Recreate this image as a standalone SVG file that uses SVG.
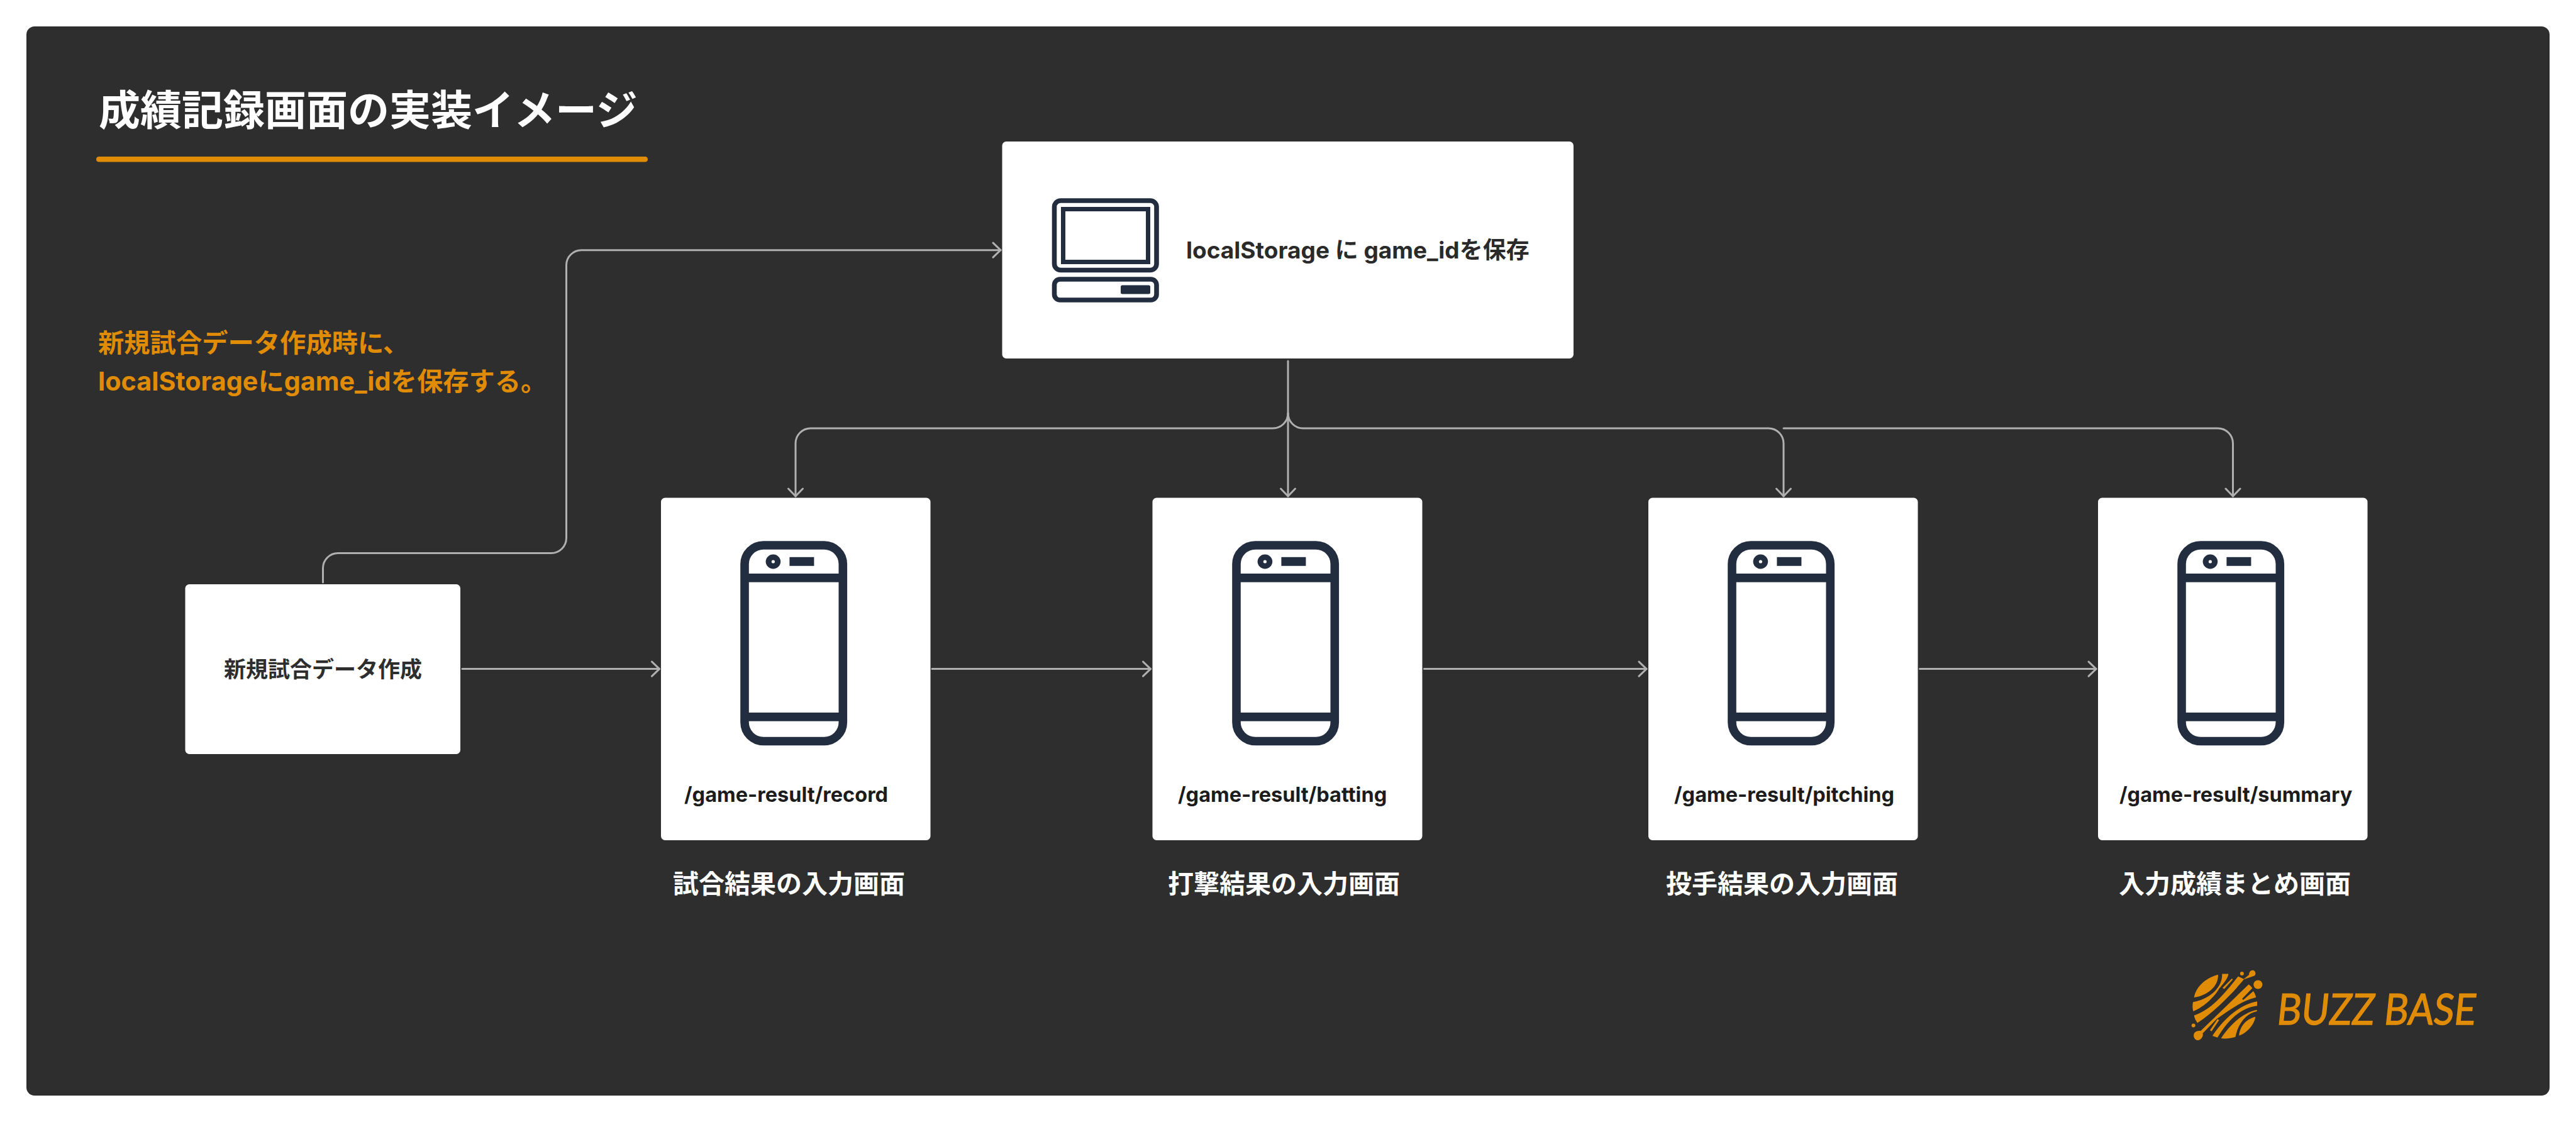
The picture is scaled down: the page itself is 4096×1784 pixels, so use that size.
<svg xmlns="http://www.w3.org/2000/svg" width="4096" height="1784" viewBox="0 0 4096 1784">
<style>
text{font-family:"Inter","Noto Sans CJK JP","Noto Sans",sans-serif;font-weight:700}
.card{fill:#fff}
.ink{fill:none;stroke:#222e3f}
.solid{fill:#222e3f}
.conn{fill:none;stroke:#b0b0b0;stroke-width:3;stroke-linecap:round;marker-end:url(#arrow)}
.path{font-size:32.5px;fill:#1c1c1c}
.cap{font-size:41px;fill:#fff}
.note{font-size:41.3px;fill:#e08c07}
.logo{fill:#e08c07}
</style>
<defs>
<marker id="arrow" markerUnits="userSpaceOnUse" markerWidth="30" markerHeight="30" refX="15" refY="15" orient="auto" overflow="visible">
<path d="M3 3.5L15 15L3 26.5" fill="none" stroke="#b0b0b0" stroke-width="3" stroke-linecap="round" stroke-linejoin="round"/>
</marker>
<g id="phone">
<rect x="133" y="75.5" width="156.3" height="311.5" rx="30" ry="30" class="ink" stroke-width="13.6"/>
<rect x="133" y="120.5" width="156.3" height="13.7" class="solid"/>
<rect x="133" y="341.5" width="156.3" height="13.7" class="solid"/>
<ellipse cx="178.4" cy="101.5" rx="11.8" ry="11.4" class="solid"/>
<circle cx="178.4" cy="101.5" r="2.6" fill="#fff"/>
<rect x="204.4" y="94.3" width="39" height="14" class="solid"/>
</g>
</defs>
<rect width="4096" height="1784" fill="#fff"/>
<rect id="panel" x="42" y="42" width="4012" height="1700" rx="13" fill="#2e2e2e"/>
<g id="title">
<text x="157" y="198.5" font-size="66" fill="#fff">成績記録画面の実装イメージ</text>
<rect x="153" y="249" width="877" height="8.4" rx="4.2" fill="#e08c07"/>
</g>
<g id="note">
<text class="note" x="156" y="560">新規試合データ作成時に、</text>
<text class="note" x="156" y="621">localStorageにgame_idを保存する。</text>
</g>
<g id="connectors">
<path class="conn" d="M513.5 926V903.5A24 24 0 0 1 537.5 879.5H876.5A24 24 0 0 0 900.5 855.5V421.7A24 24 0 0 1 924.5 397.7H1591"/>
<path class="conn" d="M2048 574V789"/>
<path class="conn" d="M2048 657A24 24 0 0 1 2024 681H1289A24 24 0 0 0 1265 705V789"/>
<path class="conn" d="M2048 657A24 24 0 0 0 2072 681H2812A24 24 0 0 1 2836 705V789"/>
<path class="conn" d="M2836 681H3526.5A24 24 0 0 1 3550.5 705V789"/>
<path class="conn" d="M735 1063.6H1048.5"/>
<path class="conn" d="M1482 1063.6H1829.5"/>
<path class="conn" d="M2264.5 1063.6H2618"/>
<path class="conn" d="M3052.5 1063.6H3333"/>
</g>
<g id="node-storage">
<rect class="card" x="1593.5" y="225" width="908.5" height="345" rx="6.5"/>
<rect x="1676.5" y="319" width="162.5" height="110.5" rx="10" class="ink" stroke-width="7.6"/>
<rect x="1690.5" y="332.5" width="135" height="84" class="ink" stroke-width="7"/>
<rect x="1676.5" y="444" width="162.5" height="33" rx="9" class="ink" stroke-width="7.6"/>
<rect x="1782" y="453.5" width="47" height="14" rx="2.5" class="solid"/>
<text x="1886" y="411" font-size="37" fill="#2a2a2a">localStorage に game_idを保存</text>
</g>
<g id="node-new">
<rect class="card" x="294.5" y="929" width="437.5" height="270" rx="6.5"/>
<text x="356" y="1077" font-size="35" fill="#2e2e2e">新規試合データ作成</text>
</g>
<g id="node-record">
<rect class="card" x="1051" y="791.5" width="428.5" height="544.5" rx="6.5"/>
<use href="#phone" x="1051" y="791.5"/>
<text class="path" x="1088" y="1275">/game-result/record</text>
<text class="cap" x="1070" y="1420">試合結果の入力画面</text>
</g>
<g id="node-batting">
<rect class="card" x="1832.5" y="791.5" width="429" height="544.5" rx="6.5"/>
<use href="#phone" x="1833" y="791.5"/>
<text class="path" x="1873" y="1275">/game-result/batting</text>
<text class="cap" x="1857" y="1420">打撃結果の入力画面</text>
</g>
<g id="node-pitching">
<rect class="card" x="2621" y="791.5" width="428.5" height="544.5" rx="6.5"/>
<use href="#phone" x="2621" y="791.5"/>
<text class="path" x="2662" y="1275">/game-result/pitching</text>
<text class="cap" x="2649" y="1420">投手結果の入力画面</text>
</g>
<g id="node-summary">
<rect class="card" x="3336" y="791.5" width="428.5" height="544.5" rx="6.5"/>
<use href="#phone" x="3336" y="791.5"/>
<text class="path" x="3370" y="1275">/game-result/summary</text>
<text class="cap" x="3369" y="1420">入力成績まとめ画面</text>
</g>
<g id="logo">
<g transform="translate(3418.6 1498.9) scale(.33542 .17531)" class="logo">
<path d="M323 290C260 320 215 410 209 497C270 480 325 400 323 290Z"/>
<path d="M342 283L372 283C370 320 350 370 328 415C310 480 260 580 205 622C201 595 201 565 204 538C270 520 345 420 342 283Z"/>
<path d="M388 325L393 333L352 420L344 410Z"/>
<path d="M418 306L445 330L470 290C468 275 475 250 487 250C500 250 505 285 495 300L445 333C400 440 310 620 225 728C215 705 211 680 209 660C290 610 350 470 418 306Z"/>
<path d="M468 378C476 390 482 400 485 412L437 508L442 520L490 440C496 455 500 475 503 495C430 530 370 620 316 692L250 822C255 850 240 885 228 885C212 885 203 850 209 825C213 805 228 798 240 800Z"/>
<path d="M320 692L328 702L292 803L284 795Z"/>
<path d="M508 533L508 572C430 590 370 700 320 860L296 845C340 720 410 570 508 533Z"/>
<path d="M507 610L507 622C460 640 420 720 405 855C380 870 355 872 337 868C370 770 430 640 507 610Z"/>
<path d="M500 672C495 740 460 820 422 842C425 770 450 695 500 672Z"/>
<ellipse cx="436" cy="280" rx="9" ry="17"/>
<ellipse cx="512" cy="380" rx="21" ry="40"/>
<ellipse cx="206" cy="751" rx="9" ry="17"/>
</g>
<text x="3619" y="1629.5" font-size="68" class="logo" style="font-family:Lato,sans-serif;font-weight:400" textLength="316" lengthAdjust="spacingAndGlyphs" transform="translate(174 0) skewX(-6.1)" stroke="#e08c07" stroke-width="1.4">BUZZ BASE</text>
</g>
</svg>
